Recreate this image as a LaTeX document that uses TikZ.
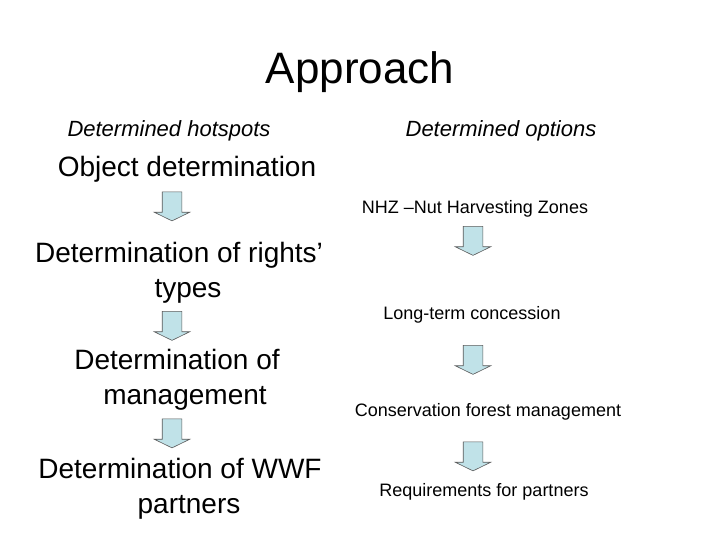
\documentclass[tikz,border=0pt]{standalone}
\usepackage{fontspec}
\setmainfont{Liberation Sans}
\usepackage{xcolor}
\definecolor{cblue}{RGB}{192,226,232}
\definecolor{cgray}{RGB}{90,90,90}
\usepackage{tikz}
\usetikzlibrary{shapes.arrows}
\tikzset{
Title/.style={
	inner sep=0pt, anchor=base,
	font=\fontsize{44}{50}\selectfont
},
Heading/.style={
	inner sep=0pt, anchor=base,
	font=\fontsize{22}{26}\selectfont\itshape
},
StepText/.style={
	inner sep=0pt, anchor=base,
	align=center,
	font=\fontsize{28}{35}\selectfont
},
OptionText/.style={
	inner sep=0pt, anchor=base,
	font=\fontsize{18}{22}\selectfont
},
DownArrow/.style={
	shape=single arrow, rotate=-90,
	draw=cgray, fill=cblue, line width=0.6pt,
	inner xsep=0pt, inner ysep=9.5pt,
	minimum height=29pt,
	single arrow head extend=8pt,
	single arrow tip angle=128
}
}

\begin{document}
\begin{tikzpicture}[x=1pt, y=1pt]
	\useasboundingbox (0,0) rectangle (720,-540);

	\node[Title] (T) at (360,-84) {Approach};
	\node[Heading] (H1) at (169,-137) {Determined hotspots};
	\node[Heading] (H2) at (501,-137) {Determined options};

	% left column (base = last line)
	\node[StepText] (S1) at (187,-177) {Object determination};
	\node[StepText] (S2) at (188,-297) {Determination of rights’\hspace*{18pt}\\types};
	\node[StepText] (S3) at (185,-404) {Determination of\hspace*{16pt}\\management};
	\node[StepText] (S4) at (189,-513) {Determination of WWF\hspace*{18pt}\\partners};

	\node[DownArrow] (A1) at (172,-204) {};
	\node[DownArrow] (A2) at (172,-323.5) {};
	\node[DownArrow] (A3) at (172,-431) {};

	% right column
	\node[OptionText] (O1) at (475,-213.5) {NHZ –Nut Harvesting Zones};
	\node[OptionText] (O2) at (472,-319) {Long-term concession};
	\node[OptionText] (O3) at (488,-416) {Conservation forest management};
	\node[OptionText] (O4) at (484,-496) {Requirements for partners};

	\node[DownArrow] (B1) at (473,-238.5) {};
	\node[DownArrow] (B2) at (473,-357.5) {};
	\node[DownArrow] (B3) at (473,-454) {};
\end{tikzpicture}
\end{document}
